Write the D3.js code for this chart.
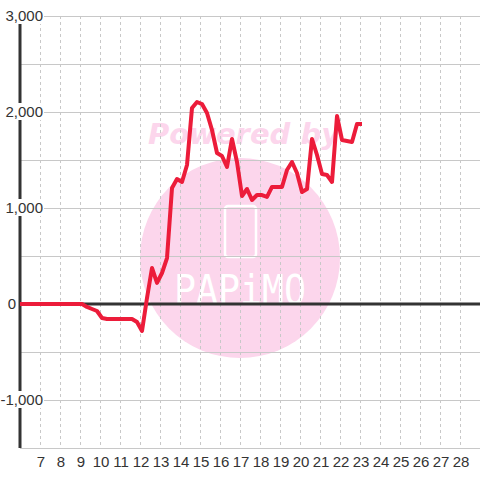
<!DOCTYPE html>
<html>
<head>
<meta charset="utf-8">
<script src="https://cdn.jsdelivr.net/npm/d3@7"></script>
<style>
	body { margin: 0; background: #fff; }
	svg text { font-family: "Liberation Sans", Arial, sans-serif; }
</style>
</head>
<body>
<svg id="mainsvg" width="480" height="480"></svg>
<script>
// hour of day
var hours = [6.0, 9.1, 9.35, 9.6, 9.85, 10.1, 10.35, 10.6, 10.85, 11.1, 11.35, 11.6, 11.85, 12.1,
	12.35, 12.6, 12.85, 13.1, 13.35, 13.6, 13.85, 14.1, 14.35, 14.6, 14.85, 15.1, 15.35, 15.6,
	15.85, 16.1, 16.35, 16.6, 16.85, 17.1, 17.35, 17.6, 17.85, 18.1, 18.35, 18.6, 18.85, 19.1,
	19.35, 19.6, 19.85, 20.1, 20.35, 20.6, 20.85, 21.1, 21.35, 21.6, 21.85, 22.1, 22.35, 22.6,
	22.85, 23.1];
var values = [0, 0, -31, -52, -73, -146, -156, -156, -156, -156, -156, -156, -188, -281,
	63, 375, 219, 323, 479, 1208, 1302, 1271, 1448, 2042, 2104, 2083, 1990, 1813,
	1573, 1542, 1427, 1719, 1479, 1125, 1198, 1083, 1135, 1135, 1115, 1219, 1219, 1219,
	1396, 1479, 1365, 1167, 1198, 1719, 1552, 1354, 1344, 1271, 1958, 1708, 1698, 1688,
	1875, 1875];
var xTicks = [7, 8, 9, 10, 11, 12, 13, 14, 15, 16, 17, 18, 19, 20, 21, 22, 23, 24, 25, 26, 27, 28];
var yGrid = [-1500, -1000, -500, 0, 500, 1000, 1500, 2000, 2500, 3000];
var yLabels = [-1000, 0, 1000, 2000, 3000];

var w = 480, h = 480;
var svg = d3.select("#mainsvg");

var x = d3.scaleLinear().domain([6, 29]).range([20, 480]);
var y = d3.scaleLinear().domain([-1500, 3000]).range([448, 16]);

var fmt = d3.formatLocale({decimal: ".", thousands: ",", grouping: [3], currency: ["", ""], minus: "-"}).format(",");

svg.append("rect").attr("width", w).attr("height", h).attr("fill", "#fff");

// watermark
var wm = svg.append("g").attr("id", "watermark");
wm.append("circle")
	.attr("cx", 240).attr("cy", 258).attr("r", 100)
	.attr("fill", "#fcd6ec");
wm.append("text")
	.attr("x", 244).attr("y", 144)
	.attr("text-anchor", "middle")
	.style("font-family", "'DejaVu Sans', sans-serif")
	.style("font-weight", "bold")
	.style("font-style", "italic")
	.style("font-size", "29px")
	.attr("fill", "#fcd6ec")
	.text("Powered by");
wm.append("rect")
	.attr("x", 225).attr("y", 206).attr("width", 31).attr("height", 51).attr("rx", 3)
	.attr("fill", "none").attr("stroke", "#fff").attr("stroke-width", 2.5);
wm.append("text")
	.attr("x", 174).attr("y", 304)
	.attr("textLength", 132)
	.attr("lengthAdjust", "spacingAndGlyphs")
	.style("font-family", "'DejaVu Sans Mono', monospace")
	.style("font-size", "41px")
	.attr("fill", "#fff")
	.text("PAPiMO");

// grid
var grid = svg.append("g").attr("class", "grid");
grid.selectAll("line.v")
	.data(xTicks)
	.enter().append("line")
	.attr("class", "v")
	.attr("x1", function(d) { return x(d) + 0.5; })
	.attr("x2", function(d) { return x(d) + 0.5; })
	.attr("y1", y(3000)).attr("y2", y(-1500))
	.attr("stroke", "#c8c8c8")
	.attr("stroke-dasharray", "3,3");
grid.selectAll("line.h")
	.data(yGrid)
	.enter().append("line")
	.attr("class", "h")
	.attr("x1", x(6)).attr("x2", w)
	.attr("y1", function(d) { return y(d) + 0.5; })
	.attr("y2", function(d) { return y(d) + 0.5; })
	.attr("stroke", "#c8c8c8");

// axes
svg.append("line")
	.attr("x1", x(6)).attr("x2", w)
	.attr("y1", y(0)).attr("y2", y(0))
	.attr("stroke", "#333").attr("stroke-width", 3);
svg.append("line")
	.attr("x1", x(6)).attr("x2", x(6))
	.attr("y1", y(3000)).attr("y2", y(-1500))
	.attr("stroke", "#333").attr("stroke-width", 3);

// series
var line = d3.line()
	.x(function(d, i) { return x(hours[i]); })
	.y(function(d) { return y(d); });
svg.append("path")
	.datum(values)
	.attr("d", line)
	.attr("fill", "none")
	.attr("stroke", "#ec1c3a")
	.attr("stroke-width", 4)
	.attr("stroke-linejoin", "round")
	.attr("stroke-linecap", "butt");

// y labels with white backing sized to the text
var yl = svg.append("g").attr("class", "ylabels")
	.selectAll("g")
	.data(yLabels)
	.enter().append("g");
var ylRect = yl.append("rect").attr("fill", "#fff");
var ylText = yl.append("text")
	.attr("x", function(d) { return d == 0 ? 16 : 43; })
	.attr("y", function(d) { return y(d) + 5; })
	.attr("text-anchor", "end")
	.style("font-size", "15px")
	.attr("fill", "#333")
	.text(function(d) { return fmt(d); });
ylText.each(function(d, i) {
	var b = this.getBBox();
	d3.select(ylRect.nodes()[i])
		.attr("x", b.x - 1).attr("y", b.y)
		.attr("width", b.width + 2).attr("height", b.height);
});

// x labels
svg.append("g").attr("class", "xlabels")
	.selectAll("text")
	.data(xTicks)
	.enter().append("text")
	.attr("x", function(d) { return x(d) + 1; })
	.attr("y", 467)
	.attr("text-anchor", "middle")
	.style("font-size", "15px")
	.attr("fill", "#333")
	.text(function(d) { return d; });
</script>
</body>
</html>
